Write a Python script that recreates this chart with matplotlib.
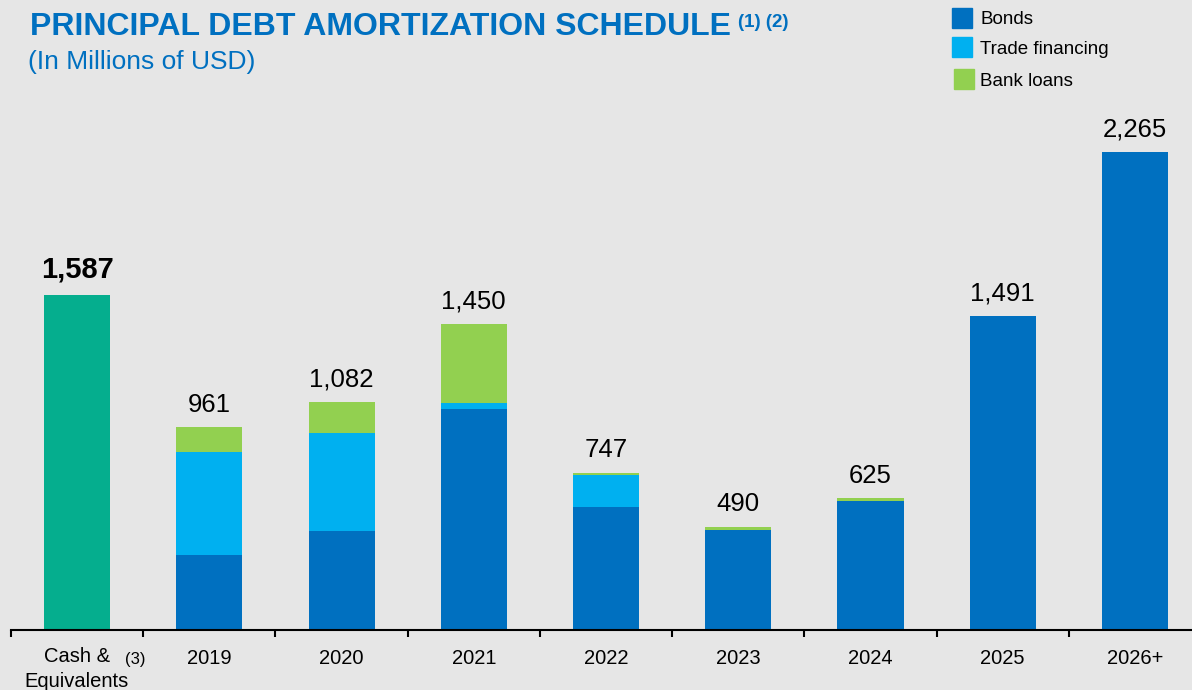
import matplotlib
matplotlib.use('Agg')
import matplotlib.pyplot as plt
import numpy as np

categories = ['Cash &\nEquivalents', '2019', '2020', '2021', '2022', '2023', '2024', '2025', '2026+']
cash = 1587
bonds = [355, 469, 1047, 583, 473, 610, 1491, 2265]
trade = [489, 465, 32, 152, 0, 0, 0, 0]
bank = [117, 148, 371, 12, 17, 15, 0, 0]
totals = ['1,587', '961', '1,082', '1,450', '747', '490', '625', '1,491', '2,265']

BG = '#E6E6E6'
C_BONDS = '#0070C0'
C_TRADE = '#00B0F0'
C_BANK = '#92D050'
C_CASH = '#05AE8E'

plt.rcParams['font.family'] = ['Liberation Sans', 'DejaVu Sans']

fig = plt.figure(figsize=(11.92, 6.90), dpi=100, facecolor=BG)
ax = fig.add_axes([11 / 1192, 1 - 630 / 690, 1190 / 1192, 506 / 690], facecolor=BG)

x = np.arange(len(categories))
w = 0.5
bonds = np.array(bonds)
trade = np.array(trade)
bank = np.array(bank)

ax.bar(x[0], cash, w, color=C_CASH)
ax.bar(x[1:], bonds, w, color=C_BONDS)
ax.bar(x[1:], trade, w, bottom=bonds, color=C_TRADE)
ax.bar(x[1:], bank, w, bottom=bonds + trade, color=C_BANK)

tops = [cash] + list(bonds + trade + bank)
for i, (t, lab) in enumerate(zip(tops, totals)):
    if i == 0:
        ax.text(x[i], t + 55, lab, ha='center', va='bottom', fontsize=21,
                fontweight='bold', color='black')
    else:
        ax.text(x[i], t + 50, lab, ha='center', va='bottom', fontsize=18.5,
                color='black')

ax.set_xlim(-0.5, 8.5)
ax.set_ylim(0, 2400)
for s in ['top', 'right', 'left']:
    ax.spines[s].set_visible(False)
ax.spines['bottom'].set_linewidth(1.5)
ax.set_yticks([])
ax.set_xticks(x)
ax.set_xticklabels([''] + categories[1:], fontsize=14.5)
ax.tick_params(axis='x', which='major', length=0, pad=13.5)
ax.set_xticks(np.arange(-0.5, 8.6, 1), minor=True)
ax.tick_params(axis='x', which='minor', length=5, width=1.5, direction='out')

# first category label with footnote
cash_lines = categories[0].split('\n')
fig.text(77 / 1192, 1 - 662 / 690, cash_lines[0], ha='center', va='baseline', fontsize=14.5)
fig.text(77 / 1192, 1 - 687 / 690, cash_lines[1], ha='center', va='baseline', fontsize=14.5)
fig.text(135 / 1192, 1 - 659.5 / 690, '(3)', ha='center', va='center', fontsize=12)

# title
fig.text(30 / 1192, 1 - 35 / 690, 'PRINCIPAL DEBT AMORTIZATION SCHEDULE', ha='left',
         va='baseline', fontsize=23, fontweight='bold', color=C_BONDS)
fig.text(738 / 1192, 1 - 27 / 690, '(1) (2)', ha='left', va='baseline',
         fontsize=13.5, fontweight='bold', color=C_BONDS)
fig.text(28 / 1192, 1 - 69 / 690, '(In Millions of USD)', ha='left', va='baseline',
         fontsize=19, color=C_BONDS)

# legend
leg = [('Bonds', C_BONDS, 952, 18), ('Trade financing', C_TRADE, 952, 47),
       ('Bank loans', C_BANK, 954, 79)]
for lab, col, lx, ly in leg:
    fig.patches.append(plt.Rectangle((lx / 1192, 1 - (ly + 10) / 690), 20 / 1192, 20 / 690,
                                     transform=fig.transFigure, color=col, figure=fig))
    fig.text(980 / 1192, 1 - (ly + 2) / 690, lab, ha='left', va='center', fontsize=13.5)

fig.savefig('out.png', dpi=100, facecolor=BG)
